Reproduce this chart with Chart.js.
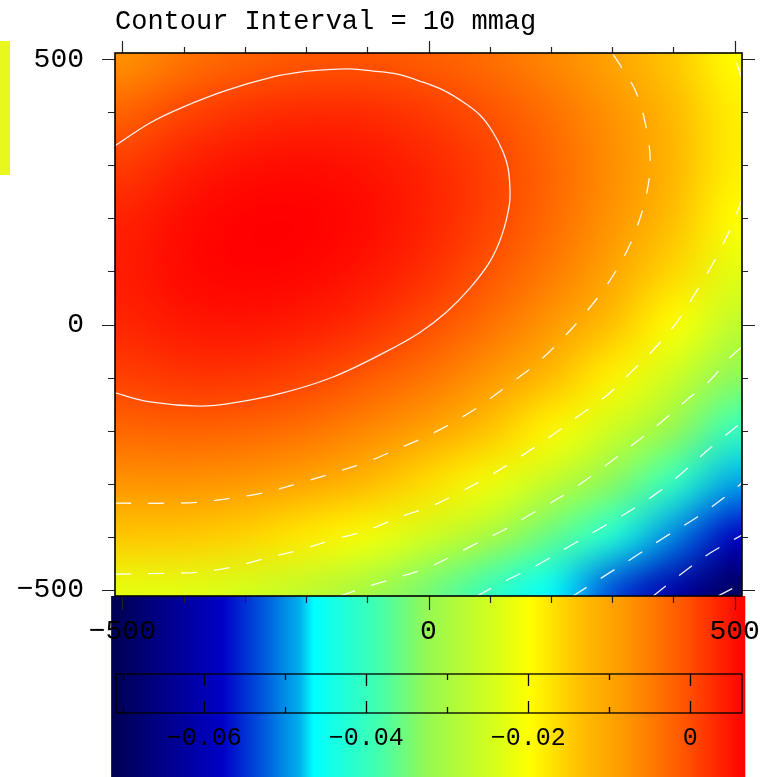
<!DOCTYPE html>
<html>
<head>
<meta charset="utf-8">
<title>Contour Interval = 10 mmag</title>
<script src="https://cdn.jsdelivr.net/npm/chart.js@4.4.1/dist/chart.umd.min.js"></script>
<style>
  body { margin: 0; background: #fff; }
  #wrap { position: relative; width: 762px; height: 777px; }
  #wrap canvas { position: absolute; left: 0; top: 0; }
</style>
</head>
<body>
<div id="wrap">
  <canvas id="barCanvas" width="762" height="777"></canvas>
  <canvas id="mapCanvas" width="762" height="777"></canvas>
</div>
<script>
// sample grid of the map (mmag), rows from y=500 down to y=-500, columns x=-500..500
var gridX = [-500, -400, -300, -200, -100, 0, 100, 200, 300, 400, 500];
var gridY = [500, 400, 300, 200, 100, 0, -100, -200, -300, -400, -500];
var fieldMmag = [
  [-7.4, -4.1, -2.0, -0.8, -0.7, -1.6, -3.4, -6.2, -9.8, -14.4, -19.9],
  [-2.2, 0.7, 2.5, 3.2, 3.0, 1.7, -0.5, -3.6, -7.6, -12.6, -18.4],
  [1.5, 4.0, 5.4, 5.7, 5.1, 3.5, 1.0, -2.5, -6.9, -12.2, -18.4],
  [3.7, 5.7, 6.7, 6.8, 5.8, 3.8, 0.9, -3.0, -7.7, -13.4, -19.9],
  [4.3, 6.0, 6.6, 6.3, 4.9, 2.6, -0.7, -4.9, -10.0, -16.0, -22.8],
  [3.4, 4.8, 5.0, 4.3, 2.6, -0.1, -3.7, -8.2, -13.7, -20.0, -27.2],
  [1.1, 2.1, 2.0, 0.9, -1.2, -4.2, -8.2, -13.1, -18.8, -25.5, -33.0],
  [-2.6, -2.1, -2.5, -3.9, -6.4, -9.7, -14.1, -19.3, -25.4, -32.4, -40.3],
  [-7.8, -7.6, -8.4, -10.2, -13.0, -16.7, -21.4, -26.9, -33.4, -40.7, -48.9],
  [-14.4, -14.6, -15.7, -17.9, -21.0, -25.1, -30.0, -36.0, -42.7, -50.4, -58.9],
  [-22.4, -22.9, -24.4, -26.9, -30.4, -34.8, -40.1, -46.3, -53.4, -61.4, -70.2]
];

// contour lines (mag level), traced points; null breaks a line
var contourLevels = [0, -0.01, -0.02, -0.03, -0.04, -0.05, -0.06, -0.07];
var contourX = [
  [-512, -455, -401, -329, -254, -210, -172, -128, -91, -51, -9, 24, 56, 84, 105, 122, 130, 133, 132, 120, 100, 68, 30, -14, -74, -156, -238, -319, -373, -455, -512],
  [-512, -427, -373, -319, -264, -210, -156, -100, -47, 2, 35, 81, 128, 174, 215, 252, 288, 318, 337, 354, 362, 357, 339, 313, 300],
  [-512, -427, -373, -319, -264, -210, -156, -100, -47, 2, 40, 96, 149, 203, 243, 292, 334, 367, 406, 432, 465, 492, 512, null, 512, 497],
  [-145, -91, -47, 2, 73, 122, 171, 226, 275, 329, 378, 422, 460, 492, 512],
  [79, 128, 177, 226, 275, 324, 373, 416, 460, 512],
  [236, 285, 334, 383, 439, 488, 512],
  [367, 411, 460, 512],
  [473, 501, 512]
];
var contourY = [
  [337, 380, 410, 442, 467, 476, 480, 482, 478, 472, 457, 442, 420, 395, 363, 325, 295, 257, 225, 169, 118, 69, 24, -15, -54, -99, -129, -148, -154, -146, -129],
  [-337, -337, -335, -327, -316, -299, -280, -259, -233, -208, -188, -156, -116, -76, -31, 16, 69, 125, 173, 235, 299, 363, 438, 489, 512],
  [-471, -469, -467, -457, -440, -425, -406, -388, -363, -344, -323, -288, -250, -208, -174, -133, -86, -48, 5, 52, 116, 178, 235, null, 465, 512],
  [-512, -491, -476, -457, -416, -388, -355, -318, -278, -231, -186, -142, -105, -63, -42],
  [-512, -482, -454, -421, -388, -355, -318, -278, -233, -184],
  [-512, -476, -440, -403, -363, -322, -299],
  [-512, -472, -431, -397],
  [-512, -495, -487]
];

var axisTicks = [-500, 0, 500];
var colorbarTicks = [-0.06, -0.04, -0.02, 0];

// colour table (mag -> rgb)
var colorStopMag = [-0.0715, -0.0577, -0.0531, -0.0482, -0.0465, -0.0387, -0.0322, -0.0239, -0.0199, -0.0137, -0.0076, -0.0010, 0.0068];
var colorStopRGB = [[0,0,80],[0,0,200],[0,80,220],[0,176,236],[0,255,255],[64,255,176],[152,248,80],[216,255,24],[255,255,0],[255,192,0],[255,148,0],[255,88,0],[255,0,0]];

Chart.defaults.font.family = "'Liberation Mono', 'DejaVu Sans Mono', monospace";
Chart.defaults.color = '#000';

function minusLabel(v) {
  return v < 0 ? '\u2212' + String(Math.abs(v)) : String(v);
}

function colorFor(v) {
  var n = colorStopMag.length;
  if (v <= colorStopMag[0]) return colorStopRGB[0];
  if (v >= colorStopMag[n - 1]) return colorStopRGB[n - 1];
  for (var i = 1; i < n; i++) {
    if (v <= colorStopMag[i]) {
      var f = (v - colorStopMag[i - 1]) / (colorStopMag[i] - colorStopMag[i - 1]);
      var a = colorStopRGB[i - 1], b = colorStopRGB[i];
      return [a[0] + f * (b[0] - a[0]), a[1] + f * (b[1] - a[1]), a[2] + f * (b[2] - a[2])];
    }
  }
}

function noSidePadding(s) {
  s.paddingLeft = 0;
  s.paddingRight = 0;
}

// ---------- colour bar (drawn underneath) ----------
var barPlugin = {
  id: 'colourBar',
  beforeDraw: function(chart) {
    var ctx = chart.ctx, x = chart.scales.x, a = chart.chartArea;
    var x0 = x.getPixelForValue(colorStopMag[0]);
    var x1 = x.getPixelForValue(colorStopMag[colorStopMag.length - 1]);
    var g = ctx.createLinearGradient(x0, 0, x1, 0);
    colorStopMag.forEach(function(v, i) {
      var c = colorStopRGB[i];
      g.addColorStop((x.getPixelForValue(v) - x0) / (x1 - x0), 'rgb(' + c.join(',') + ')');
    });
    ctx.save();
    ctx.fillStyle = g;
    ctx.fillRect(x0, a.top - 78, x1 - x0, chart.height - a.top + 78);
    ctx.restore();
  },
  afterDraw: function(chart) {
    var ctx = chart.ctx, x = chart.scales.x, a = chart.chartArea;
    ctx.save();
    ctx.strokeStyle = '#000';
    ctx.lineWidth = 1.3;
    ctx.strokeRect(a.left, a.top, a.right - a.left, a.bottom - a.top);
    ctx.beginPath();
    for (var k = -7; k <= 0; k++) {
      var big = k % 2 === 0;
      var px = Math.round(x.getPixelForValue(k / 100)) + 0.5;
      ctx.moveTo(px, a.top); ctx.lineTo(px, a.top + (big ? 12 : 6));
      ctx.moveTo(px, a.bottom); ctx.lineTo(px, a.bottom - (big ? 12 : 6));
    }
    ctx.stroke();
    ctx.restore();
  }
};

new Chart(document.getElementById('barCanvas'), {
  type: 'scatter',
  data: { datasets: [{ data: [] }] },
  options: {
    responsive: false,
    animation: false,
    events: [],
    layout: { padding: { left: 116, right: 20, top: 674, bottom: 0 } },
    plugins: { legend: { display: false }, tooltip: { enabled: false } },
    scales: {
      x: {
        type: 'linear', min: -0.0709, max: 0.0064,
        grid: { display: false, drawTicks: false },
        border: { display: false },
        afterBuildTicks: function(s) { s.ticks = colorbarTicks.map(function(v) { return { value: v }; }); },
        afterFit: function(s) { s.height = 64; noSidePadding(s); },
        ticks: { padding: 10, maxRotation: 0, autoSkip: false, font: { size: 25 },
                 callback: function(v) { return minusLabel(v); } }
      },
      y: { display: false, min: 0, max: 1 }
    }
  },
  plugins: [barPlugin]
});

// ---------- map ----------
var heatPlugin = {
  id: 'heat',
  beforeDatasetsDraw: function(chart) {
    var ctx = chart.ctx, a = chart.chartArea, x = chart.scales.x, y = chart.scales.y;
    var off = document.createElement('canvas');
    off.width = gridX.length; off.height = gridY.length;
    var octx = off.getContext('2d');
    var img = octx.createImageData(off.width, off.height);
    fieldMmag.forEach(function(row, j) {
      row.forEach(function(v, i) {
        var c = colorFor(v / 1000), k = (j * off.width + i) * 4;
        img.data[k] = c[0]; img.data[k + 1] = c[1]; img.data[k + 2] = c[2]; img.data[k + 3] = 255;
      });
    });
    octx.putImageData(img, 0, 0);
    var hx = (gridX[1] - gridX[0]) / 2, hy = (gridY[0] - gridY[1]) / 2;
    var left = x.getPixelForValue(gridX[0] - hx), right = x.getPixelForValue(gridX[gridX.length - 1] + hx);
    var top = y.getPixelForValue(gridY[0] + hy), bottom = y.getPixelForValue(gridY[gridY.length - 1] - hy);
    ctx.save();
    ctx.beginPath();
    ctx.rect(a.left, a.top, a.right - a.left, a.bottom - a.top);
    ctx.clip();
    ctx.imageSmoothingEnabled = true;
    ctx.imageSmoothingQuality = 'high';
    ctx.drawImage(off, left, top, right - left, bottom - top);
    ctx.restore();
  },
  afterDraw: function(chart) {
    var ctx = chart.ctx, a = chart.chartArea, x = chart.scales.x, y = chart.scales.y;
    ctx.save();
    // stray colour swatch at the far left
    ctx.fillStyle = '#e8f81e';
    ctx.fillRect(0, 41, 10, 134);
    ctx.strokeStyle = '#222';
    ctx.lineWidth = 1.2;
    ctx.beginPath();
    for (var v = -500; v <= 500; v += 100) {
      var big = v % 500 === 0;
      var px = Math.round(x.getPixelForValue(v)) + 0.5;
      ctx.moveTo(px, a.top); ctx.lineTo(px, a.top - (big ? 12 : 6));
      ctx.moveTo(px, a.bottom); ctx.lineTo(px, a.bottom + (big ? 14 : 7));
      var py = Math.round(y.getPixelForValue(v)) + 0.5;
      ctx.moveTo(a.left, py); ctx.lineTo(a.left - (big ? 13 : 7), py);
      ctx.moveTo(a.right, py); ctx.lineTo(a.right + (big ? 13 : 6), py);
    }
    ctx.stroke();
    ctx.strokeStyle = '#000';
    ctx.lineWidth = 1.6;
    ctx.strokeRect(a.left, a.top, a.right - a.left, a.bottom - a.top);
    ctx.restore();
  }
};

var contourSets = contourLevels.map(function(level, i) {
  return {
    label: 'level ' + level,
    showLine: true,
    data: contourX[i].map(function(xv, k) { return { x: xv, y: contourY[i][k] }; }),
    borderColor: 'rgba(255,255,255,0.92)',
    borderWidth: 1.3,
    borderDash: level < 0 ? [16, 17] : [],
    pointRadius: 0,
    pointHoverRadius: 0,
    tension: 0.35,
    spanGaps: false,
    clip: 0
  };
});

new Chart(document.getElementById('mapCanvas'), {
  type: 'scatter',
  data: { datasets: contourSets },
  options: {
    responsive: false,
    animation: false,
    events: [],
    layout: { padding: { left: 0, right: 20, top: 0, bottom: 0 } },
    plugins: {
      legend: { display: false },
      tooltip: { enabled: false },
      title: {
        display: true,
        text: 'Contour Interval = 10 mmag',
        align: 'start',
        fullSize: false,
        color: '#000',
        font: { size: 27, weight: 'normal' },
        padding: { top: 6, bottom: 14.6 }
      }
    },
    scales: {
      x: {
        type: 'linear', min: -512, max: 512,
        grid: { display: false, drawTicks: false },
        border: { display: false },
        afterBuildTicks: function(s) { s.ticks = axisTicks.map(function(v) { return { value: v }; }); },
        afterFit: function(s) { s.height = 181; noSidePadding(s); },
        ticks: { padding: 19, maxRotation: 0, autoSkip: false, font: { size: 28 },
                 callback: function(v) { return minusLabel(v); } }
      },
      y: {
        type: 'linear', min: -512, max: 512,
        grid: { display: false, drawTicks: false },
        border: { display: false },
        afterBuildTicks: function(s) { s.ticks = axisTicks.map(function(v) { return { value: v }; }); },
        afterFit: function(s) { s.width = 115; },
        ticks: { padding: 31, autoSkip: false, font: { size: 28 },
                 callback: function(v) { return minusLabel(v); } }
      }
    }
  },
  plugins: [heatPlugin]
});
</script>
</body>
</html>
